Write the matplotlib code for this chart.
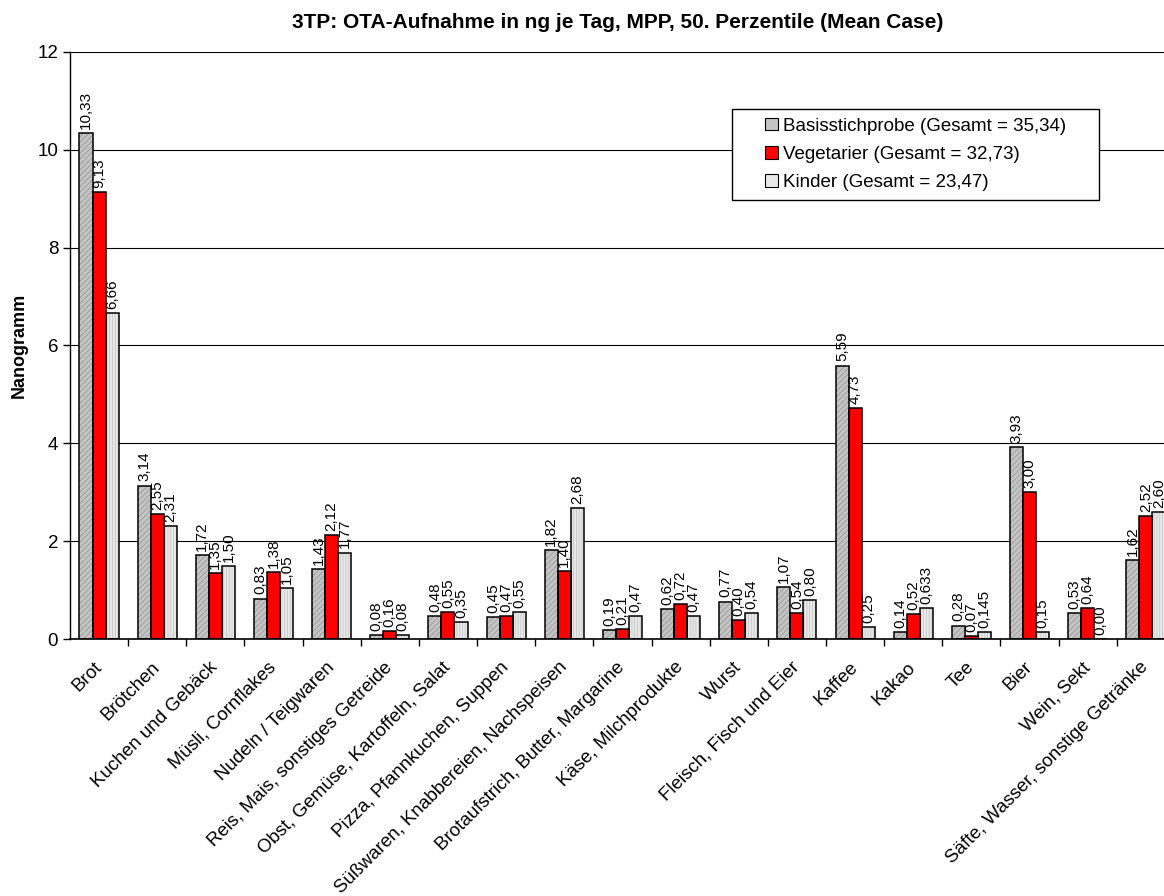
import numpy as np
import matplotlib
matplotlib.use("Agg")
import matplotlib.pyplot as plt
import matplotlib.transforms as mtransforms
from matplotlib.patches import Patch, Rectangle
from matplotlib.legend_handler import HandlerPatch

plt.rcParams['font.family'] = ['Liberation Sans', 'DejaVu Sans']
plt.rcParams['hatch.linewidth'] = 0.6

kategorien = ["Brot", "Brötchen", "Kuchen und Gebäck", "Müsli, Cornflakes",
              "Nudeln / Teigwaren", "Reis, Mais, sonstiges Getreide",
              "Obst, Gemüse, Kartoffeln, Salat", "Pizza, Pfannkuchen, Suppen",
              "Süßwaren, Knabbereien, Nachspeisen", "Brotaufstrich, Butter, Margarine",
              "Käse, Milchprodukte", "Wurst", "Fleisch, Fisch und Eier", "Kaffee",
              "Kakao", "Tee", "Bier", "Wein, Sekt", "Säfte, Wasser, sonstige Getränke"]

basis = [10.33, 3.14, 1.72, 0.83, 1.43, 0.08, 0.48, 0.45, 1.82, 0.19,
         0.62, 0.77, 1.07, 5.59, 0.14, 0.28, 3.93, 0.53, 1.62]
vegetarier = [9.13, 2.55, 1.35, 1.38, 2.12, 0.16, 0.55, 0.47, 1.40, 0.21,
              0.72, 0.40, 0.54, 4.73, 0.52, 0.07, 3.00, 0.64, 2.52]
kinder = [6.66, 2.31, 1.50, 1.05, 1.77, 0.08, 0.35, 0.55, 2.68, 0.47,
          0.47, 0.54, 0.80, 0.25, 0.633, 0.145, 0.15, 0.00, 2.60]

legende = ["Basisstichprobe (Gesamt = 35,34)",
           "Vegetarier (Gesamt = 32,73)",
           "Kinder (Gesamt = 23,47)"]


def fmt(v):
    s = f"{v:.2f}"
    if abs(float(s) - v) > 1e-9:
        s = f"{v:.3f}"
    return s.replace(".", ",")


class SquareHandler(HandlerPatch):
    # small square at the right end of the handle area
    def create_artists(self, legend, orig_handle, xdescent, ydescent,
                       width, height, fontsize, trans):
        s = 0.69 * fontsize
        p = Rectangle((width - xdescent - s, -ydescent + (height - s) / 2), s, s)
        self.update_prop(p, orig_handle, legend)
        p.set_transform(trans)
        return [p]


fig = plt.figure(figsize=(11.64, 8.96), dpi=100)
ax = fig.add_axes([0.0601, 0.2865, 0.9493, 0.6558])

x = np.arange(len(kategorien))
w = 0.224
# face colour, hatch colour, hatch pattern
stile = [("#c4c4c4", "#9a9a9a", "//////"),
         ("#ff0000", "#ff0000", None),
         ("#e8e8e8", "#c8c8c8", "||||||")]

handles = []
for i, (werte, (fc, hc, hatch)) in enumerate(zip([basis, vegetarier, kinder], stile)):
    pos = x + (i - 1) * w
    ax.bar(pos, werte, w, color=fc, edgecolor=hc, hatch=hatch, linewidth=0, zorder=2)
    ax.bar(pos, werte, w, facecolor="none", edgecolor="black", linewidth=1.1, zorder=3)
    for p, v in zip(pos, werte):
        ax.annotate(fmt(v), (p, v), xytext=(0, 3), textcoords="offset points",
                    rotation=90, ha="center", va="bottom", fontsize=11, zorder=4)
    handles.append(Patch(facecolor=fc, edgecolor="black", linewidth=0.8))

ax.set_xlim(-0.5, len(kategorien) - 0.5)
ax.set_ylim(0, 12)
ax.set_yticks(range(0, 13, 2))
ax.tick_params(axis="y", labelsize=13.5, length=5, width=1)
ax.yaxis.grid(True, color="black", linewidth=0.8, zorder=0)
ax.set_axisbelow(True)

ax.set_xticks(x)
ax.set_xticklabels(kategorien, rotation=45, ha="right", rotation_mode="anchor", fontsize=13.5)
ax.tick_params(axis="x", which="major", length=0, pad=14)
shift = mtransforms.ScaledTranslation(-0.06, 0, fig.dpi_scale_trans)
for lab in ax.get_xticklabels():
    lab.set_transform(lab.get_transform() + shift)
ax.set_xticks(np.arange(0.5, len(kategorien) - 0.5, 1), minor=True)
ax.tick_params(axis="x", which="minor", length=5, width=1)

for s in ["top", "right"]:
    ax.spines[s].set_visible(False)
ax.spines["left"].set_linewidth(1)
ax.spines["bottom"].set_linewidth(1.2)

ax.set_ylabel("Nanogramm", fontsize=13, fontweight="bold", labelpad=7)

fig.text(0.5305, 0.975, "3TP: OTA-Aufnahme in ng je Tag, MPP, 50. Perzentile (Mean Case)",
         ha="center", va="center", fontsize=15, fontweight="bold")

leg = ax.legend(handles, legende, loc="upper left", mode="expand",
                bbox_to_anchor=(0.599, 0.5, 0.332, 0.4025),
                handler_map={Patch: SquareHandler()},
                fontsize=13.5, frameon=True, fancybox=False, framealpha=1,
                edgecolor="black", handlelength=2.0, handleheight=0.7,
                handletextpad=0.27, borderpad=0.45, labelspacing=0.6, borderaxespad=0)
leg.get_frame().set_linewidth(1)

fig.savefig("out.png", dpi=100)
